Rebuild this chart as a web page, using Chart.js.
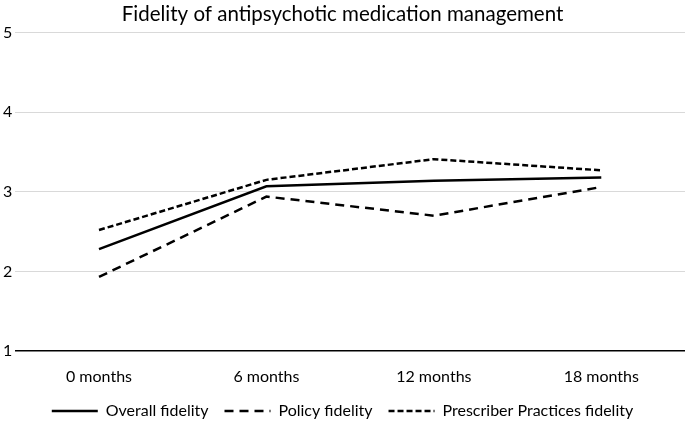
<!DOCTYPE html>
<html>
<head>
<meta charset="utf-8">
<script src="https://cdn.jsdelivr.net/npm/chart.js@4"></script>
<style>
  html, body { margin: 0; padding: 0; background: #fff; }
  #wrap { width: 685px; height: 425px; }
</style>
</head>
<body>
<div id="wrap"><canvas id="chart"></canvas></div>
<script>
var months = ["0 months", "6 months", "12 months", "18 months"];
var overall_fidelity = [2.28, 3.07, 3.14, 3.18];
var policy_fidelity = [1.93, 2.94, 2.70, 3.06];
var prescriber_fidelity = [2.52, 3.15, 3.41, 3.27];
var y_ticks = [1, 2, 3, 4, 5];

var fontFamily = "Lato, 'Open Sans', sans-serif";

// legend is too tall by default, trim its box
var legendHeightFix = {
    id: "legendHeightFix",
    afterInit: function(chart) {
        var lg = chart.legend;
        var origFit = lg.fit;
        lg.fit = function() {
            origFit.call(this);
            this.height = 38;
        };
    },
};

const ctx = document.getElementById("chart").getContext("2d");
const myChart = new Chart(ctx, {
    type: "line",
    data: {
        labels: months,
        datasets: [{
                label: "Overall fidelity",
                data: overall_fidelity,
                borderColor: "#000",
                backgroundColor: "#000",
                borderWidth: 2.5,
                pointRadius: 0,
            },
            {
                label: "Policy fidelity",
                data: policy_fidelity,
                borderColor: "#000",
                backgroundColor: "#000",
                borderWidth: 2.5,
                borderDash: [9, 6],
                pointRadius: 0,
            },
            {
                label: "Prescriber Practices fidelity",
                data: prescriber_fidelity,
                borderColor: "#000",
                backgroundColor: "#000",
                borderWidth: 2.5,
                borderDash: [6, 3],
                pointRadius: 0,
            },
        ],
    },
    plugins: [legendHeightFix],
    options: {
        responsive: true,
        maintainAspectRatio: false,
        animation: false,
        layout: { padding: { left: 0, right: 0, top: 0, bottom: 0 } },
        plugins: {
            title: {
                display: true,
                text: "Fidelity of antipsychotic medication management",
                color: "#000",
                font: { family: fontFamily, size: 20.5, weight: "normal" },
                padding: { top: 2, bottom: 6 },
            },
            legend: {
                position: "bottom",
                labels: {
                    color: "#000",
                    font: { family: fontFamily, size: 16 },
                    usePointStyle: true,
                    pointStyle: "line",
                    pointStyleWidth: 46,
                    boxHeight: 16,
                    padding: 16,
                    generateLabels: function(chart) {
                        return chart.data.datasets.map(function(ds, i) {
                            return {
                                text: ds.label,
                                datasetIndex: i,
                                fillStyle: "#000",
                                strokeStyle: "#000",
                                fontColor: "#000",
                                lineWidth: 2.5,
                                lineDash: ds.borderDash || [],
                                pointStyle: "line",
                                hidden: false,
                            };
                        });
                    },
                },
            },
            tooltip: { enabled: false },
        },
        scales: {
            x: {
                offset: true,
                grid: { display: false, drawTicks: false },
                border: { display: false },
                ticks: {
                    color: "#000",
                    font: { family: fontFamily, size: 16 },
                    padding: 16,
                },
                afterFit: function(axis) {
                    axis.height = 36;
                },
            },
            y: {
                min: 1,
                max: 5,
                afterBuildTicks: function(axis) {
                    axis.ticks = y_ticks.map(function(v) { return { value: v }; });
                },
                grid: {
                    color: function(c) { return c.tick.value === 1 ? "#000" : "#d9d9d9"; },
                    lineWidth: function(c) { return c.tick.value === 1 ? 1.5 : 1; },
                    drawTicks: false,
                },
                border: { display: false },
                ticks: {
                    color: "#000",
                    font: { family: fontFamily, size: 16 },
                    padding: 3,
                },
            },
        },
    },
});
</script>
</body>
</html>
